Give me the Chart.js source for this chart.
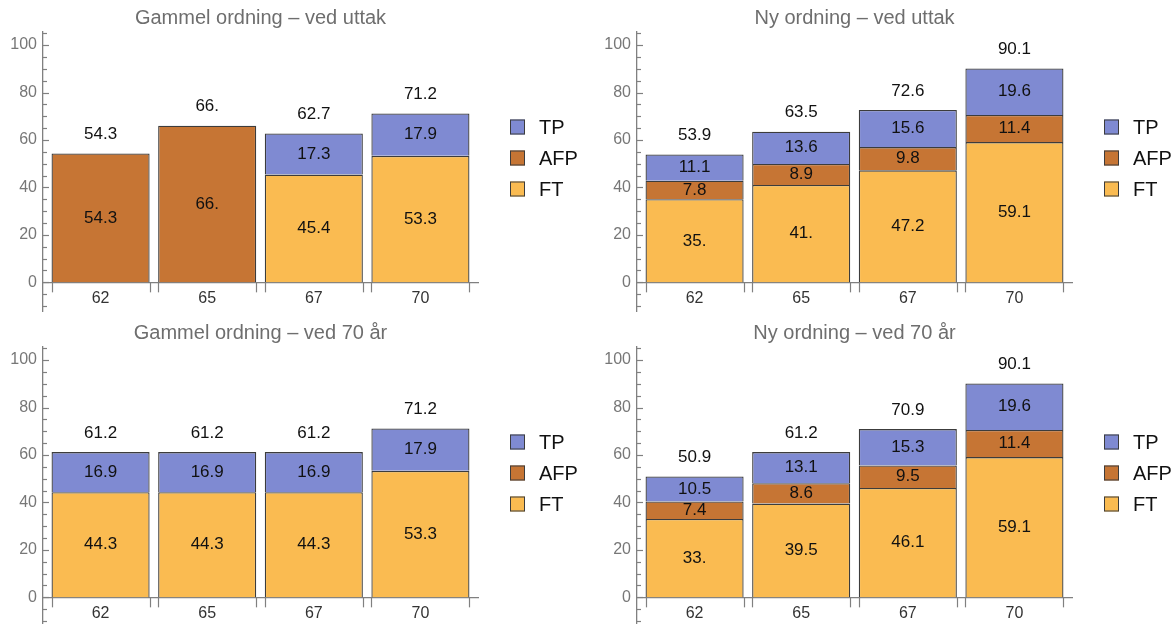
<!DOCTYPE html>
<html>
<head>
<meta charset="utf-8">
<script src="https://cdn.jsdelivr.net/npm/chart.js@4.4.1/dist/chart.umd.min.js"></script>
<style>
  body { margin: 0; background: #fff; width: 1176px; height: 624px; overflow: hidden; position: relative; }
  .panel { position: absolute; width: 582px; height: 312px; }
</style>
</head>
<body>
<div class="panel" style="left:0;top:0"><canvas id="c1" width="582" height="312"></canvas></div>
<div class="panel" style="left:594px;top:0"><canvas id="c2" width="582" height="312"></canvas></div>
<div class="panel" style="left:0;top:315px"><canvas id="c3" width="582" height="312"></canvas></div>
<div class="panel" style="left:594px;top:315px"><canvas id="c4" width="582" height="312"></canvas></div>
<script>
const ages = ['62', '65', '67', '70'];
const seriesNames = ['FT', 'AFP', 'TP'];
const yTicks = [0, 20, 40, 60, 80, 100];

// Gammel ordning - ved uttak
const ftGammelUttak = [0, 0, 45.4, 53.3];
const afpGammelUttak = [54.3, 66, 0, 0];
const tpGammelUttak = [0, 0, 17.3, 17.9];

// Ny ordning - ved uttak
const ftNyUttak = [35, 41, 47.2, 59.1];
const afpNyUttak = [7.8, 8.9, 9.8, 11.4];
const tpNyUttak = [11.1, 13.6, 15.6, 19.6];

// Gammel ordning - ved 70 år
const ftGammel70 = [44.3, 44.3, 44.3, 53.3];
const afpGammel70 = [0, 0, 0, 0];
const tpGammel70 = [16.9, 16.9, 16.9, 17.9];

// Ny ordning - ved 70 år
const ftNy70 = [33, 39.5, 46.1, 59.1];
const afpNy70 = [7.4, 8.6, 9.5, 11.4];
const tpNy70 = [10.5, 13.1, 15.3, 19.6];

const fills = ['#fabb51', '#c67534', '#7f8ad2'];
const edge = '#3c3c3c';
const axisColor = '#808080';
const family = '"Liberation Sans", Arial, sans-serif';

// Mathematica style: whole numbers get a trailing dot
function fmt(v) {
  const r = Math.round(v * 10) / 10;
  return Number.isInteger(r) ? r + '.' : r.toFixed(1);
}

function noPadding(s) {
  s.paddingTop = 0;
  s.paddingBottom = 0;
  s.paddingLeft = 0;
  s.paddingRight = 0;
}

const decorations = {
  id: 'decorations',
  afterDatasetsDraw(chart) {
    const { ctx, chartArea, scales: { x, y } } = chart;
    const sets = chart.data.datasets;
    ctx.save();

    // values inside segments
    ctx.font = '17px ' + family;
    ctx.fillStyle = '#111';
    ctx.textAlign = 'center';
    ctx.textBaseline = 'middle';
    sets.forEach((ds, i) => {
      chart.getDatasetMeta(i).data.forEach((bar, j) => {
        const v = ds.data[j].y;
        if (!v) return;
        ctx.fillText(fmt(v), bar.x, (bar.y + bar.base) / 2);
      });
    });

    // totals above bars
    ages.forEach((a, j) => {
      const total = sets.reduce((s, ds) => s + (ds.data[j].y || 0), 0);
      ctx.fillText(fmt(total), x.getPixelForValue(j + 1), y.getPixelForValue(total) - 19);
    });

    // y-axis major and minor ticks
    ctx.strokeStyle = axisColor;
    ctx.lineWidth = 1.2;
    const x0 = chartArea.left;
    for (let v = -10; v <= 105; v += 5) {
      const py = Math.round(y.getPixelForValue(v)) + 0.5;
      const len = v % 20 === 0 ? 6 : 4;
      ctx.beginPath();
      ctx.moveTo(x0, py);
      ctx.lineTo(x0 + len, py);
      ctx.stroke();
    }

    // x-axis ticks at the bar edges
    const y0 = y.getPixelForValue(0);
    const meta = chart.getDatasetMeta(0);
    meta.data.forEach(bar => {
      [bar.x - bar.width / 2, bar.x + bar.width / 2].forEach(px => {
        ctx.beginPath();
        ctx.moveTo(Math.round(px) + 0.5, y0);
        ctx.lineTo(Math.round(px) + 0.5, y0 + 10);
        ctx.stroke();
      });
    });

    // legend (top to bottom: TP, AFP, FT)
    const lx = chartArea.right + 32;
    const offsets = [95, 126, 157];
    ctx.font = '20px ' + family;
    ctx.textAlign = 'left';
    sets.slice().reverse().forEach((ds, k) => {
      const cy = chartArea.top + offsets[k];
      ctx.fillStyle = ds.backgroundColor;
      ctx.fillRect(lx, cy - 7.5, 15, 15);
      ctx.strokeStyle = edge;
      ctx.lineWidth = 1;
      ctx.strokeRect(lx + 0.5, cy - 7, 14, 14);
      ctx.fillStyle = '#111';
      ctx.fillText(ds.label, lx + 29, cy + 1);
    });
    ctx.restore();
  }
};

function makeChart(id, title, ft, afp, tp) {
  const values = [ft, afp, tp];
  return new Chart(document.getElementById(id), {
    type: 'bar',
    data: {
      datasets: seriesNames.map((name, i) => ({
        label: name,
        data: values[i].map((v, j) => ({ x: j + 1, y: v || null })),
        backgroundColor: fills[i],
        borderColor: edge,
        borderWidth: 1.3,
        barPercentage: 0.92,
        categoryPercentage: 1
      }))
    },
    options: {
      responsive: false,
      animation: false,
      layout: { padding: { top: 0, right: 104, bottom: 0, left: 0 } },
      plugins: {
        legend: { display: false },
        tooltip: { enabled: false },
        title: {
          display: true,
          text: title,
          fullSize: false,
          color: '#6e6e6e',
          font: { family: family, size: 20, weight: 'normal' },
          padding: { top: 6, bottom: 2 }
        }
      },
      scales: {
        x: {
          type: 'linear',
          stacked: true,
          offset: false,
          min: 0.46,
          max: 4.54,
          position: { y: 0 },
          afterBuildTicks: s => { s.ticks = ages.map((a, i) => ({ value: i + 1 })); },
          afterFit: s => { s.height = 0; noPadding(s); },
          ticks: {
            callback: v => ages[v - 1],
            color: '#333',
            font: { family: family, size: 16 },
            padding: 7,
            autoSkip: false,
            maxRotation: 0
          },
          grid: { display: false, drawTicks: false, offset: false },
          border: { color: axisColor, width: 1.3 }
        },
        y: {
          stacked: true,
          min: -12.5,
          max: 105.5,
          afterBuildTicks: s => { s.ticks = yTicks.map(v => ({ value: v })); },
          afterFit: s => { s.width = 43; noPadding(s); },
          ticks: {
            color: '#777',
            font: { family: family, size: 16 },
            padding: 6
          },
          grid: { display: false, drawTicks: false },
          border: { color: axisColor, width: 1.3 }
        }
      }
    },
    plugins: [decorations]
  });
}

makeChart('c1', 'Gammel ordning – ved uttak', ftGammelUttak, afpGammelUttak, tpGammelUttak);
makeChart('c2', 'Ny ordning – ved uttak', ftNyUttak, afpNyUttak, tpNyUttak);
makeChart('c3', 'Gammel ordning – ved 70 år', ftGammel70, afpGammel70, tpGammel70);
makeChart('c4', 'Ny ordning – ved 70 år', ftNy70, afpNy70, tpNy70);
</script>
</body>
</html>
